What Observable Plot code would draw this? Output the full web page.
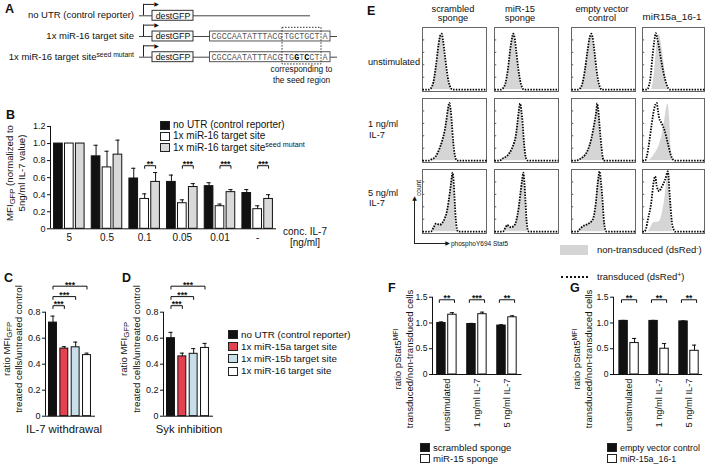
<!DOCTYPE html>
<html><head><meta charset="utf-8">
<script src="https://cdn.jsdelivr.net/npm/d3@7"></script>
<script src="https://cdn.jsdelivr.net/npm/@observablehq/plot@0.6"></script>
<style>
html,body{margin:0;padding:0;background:#fff;}
#root{position:relative;width:705px;height:465px;overflow:hidden;font-family:"Liberation Sans",Arial,Helvetica,sans-serif;color:#111;background:#fff;}
.t{position:absolute;white-space:nowrap;line-height:1;}
.t sup{font-size:0.72em;vertical-align:0.5em;line-height:0;}
.t sub{font-size:0.8em;vertical-align:-0.25em;line-height:0;}
.sw{position:absolute;box-sizing:border-box;}
</style></head><body><div id="root"></div>
<script>
// ---------------- DATA ----------------
// Panel A: reporter constructs
const constructRows = ["no UTR (control reporter)", "1x miR-16 target site", "1x miR-16 target site"];
const constructSup = ["", "", "seed mutant"];
const utrPrefix = "CGCCAATATTTACG";
const utrSeed = ["", "TGCTGCT", "TGGTCCT"];
const utrSuffix = "A";
const seedMutated = [2, 4];

// Panel B
const il7Conc = ["5", "0.5", "0.1", "0.05", "0.01", "-"];
const bSeries = ["no UTR (control reporter)", "1x miR-16 target site", "1x miR-16 target site"];
const bNoUTR = [1.00, 0.85, 0.59, 0.55, 0.50, 0.42];
const bNoUTRsd = [0, 0.13, 0.12, 0.08, 0.04, 0.04];
const bMiR16 = [1.00, 0.72, 0.35, 0.30, 0.265, 0.23];
const bMiR16sd = [0, 0.19, 0.06, 0.04, 0.025, 0.04];
const bSeedMut = [1.00, 0.87, 0.55, 0.49, 0.43, 0.35];
const bSeedMutsd = [0, 0.17, 0.11, 0.04, 0.03, 0.05];
const bStars = ["", "", "**", "***", "***", "***"];

// Panels C, D
const reporterNames = ["no UTR (control reporter)", "1x miR-15a target site", "1x miR-15b target site", "1x miR-16 target site"];
const cWithdrawal = [0.72, 0.52, 0.53, 0.47];
const cWithdrawalSd = [0.05, 0.015, 0.04, 0.015];
const dSyk = [0.60, 0.46, 0.48, 0.525];
const dSykSd = [0.045, 0.025, 0.04, 0.035];
const cdStars = ["***", "***", "***"];

// Panel E: histograms [phosphoY694 Stat5 (fraction of axis), count (fraction of max)]
const eColumns = ["scrambled sponge", "miR-15 sponge", "empty vector control", "miR15a_16-1"];
const eRowsLab = ["unstimulated", "1 ng/ml IL-7", "5 ng/ml IL-7"];
const hScrUnstim = [[0,0],[0.10,0],[0.13,0.02],[0.17,0.12],[0.21,0.38],[0.25,0.72],[0.28,0.88],[0.30,0.9],[0.32,0.8],[0.35,0.55],[0.38,0.3],[0.41,0.12],[0.44,0.03],[0.47,0],[1,0]];
const hScr1ng = [[0,0],[0.1,0],[0.14,0.02],[0.2,0.06],[0.26,0.18],[0.31,0.33],[0.35,0.5],[0.38,0.7],[0.40,0.85],[0.42,0.93],[0.44,0.82],[0.46,0.58],[0.48,0.3],[0.5,0.12],[0.52,0.03],[0.54,0],[1,0]];
const hScr5ng = [[0,0],[0.13,0],[0.17,0.06],[0.21,0.13],[0.24,0.12],[0.27,0.11],[0.31,0.14],[0.35,0.22],[0.38,0.32],[0.41,0.5],[0.44,0.73],[0.46,0.9],[0.47,0.95],[0.49,0.75],[0.5,0.55],[0.52,0.2],[0.54,0.04],[0.56,0],[1,0]];
const hSpoUnstim = [[0,0],[0.1,0],[0.13,0.02],[0.17,0.1],[0.21,0.33],[0.25,0.68],[0.28,0.86],[0.29,0.9],[0.31,0.86],[0.34,0.62],[0.37,0.35],[0.40,0.15],[0.43,0.04],[0.46,0],[1,0]];
const hSpo1ng = [[0,0],[0.08,0],[0.12,0.03],[0.2,0.08],[0.27,0.19],[0.31,0.3],[0.33,0.38],[0.36,0.62],[0.38,0.8],[0.40,0.92],[0.42,0.8],[0.44,0.6],[0.46,0.3],[0.48,0.1],[0.5,0.02],[0.52,0],[1,0]];
const hSpo5ng = [[0,0],[0.13,0],[0.17,0.06],[0.2,0.11],[0.23,0.08],[0.26,0.07],[0.31,0.1],[0.36,0.27],[0.38,0.4],[0.4,0.57],[0.43,0.82],[0.45,0.95],[0.47,0.75],[0.48,0.57],[0.5,0.19],[0.52,0.03],[0.54,0],[1,0]];
const hEmpUnstim = [[0,0],[0.1,0],[0.135,0.02],[0.17,0.1],[0.21,0.32],[0.25,0.62],[0.28,0.82],[0.31,0.9],[0.33,0.84],[0.36,0.6],[0.39,0.33],[0.42,0.13],[0.45,0.03],[0.47,0],[1,0]];
const hEmp1ng = [[0,0],[0.08,0],[0.12,0.02],[0.17,0.05],[0.25,0.16],[0.31,0.35],[0.36,0.62],[0.39,0.82],[0.40,0.92],[0.42,0.8],[0.44,0.54],[0.47,0.2],[0.48,0.11],[0.5,0.01],[0.52,0],[1,0]];
const hEmp5ng = [[0,0],[0.09,0],[0.13,0.04],[0.17,0.08],[0.25,0.12],[0.33,0.19],[0.38,0.46],[0.41,0.78],[0.44,0.97],[0.46,0.8],[0.48,0.57],[0.51,0.14],[0.53,0.03],[0.55,0],[1,0]];
const hMirTUnstim = [[0,0],[0.07,0],[0.1,0.05],[0.124,0.16],[0.16,0.52],[0.19,0.78],[0.215,0.91],[0.235,0.84],[0.258,0.73],[0.31,0.42],[0.366,0.16],[0.41,0.03],[0.44,0],[1,0]];
const hMirNUnstim = [[0,0],[0.14,0],[0.165,0.08],[0.19,0.26],[0.23,0.7],[0.255,0.86],[0.27,0.89],[0.295,0.8],[0.32,0.63],[0.366,0.26],[0.39,0.05],[0.42,0],[1,0]];
const hMirT1ng = [[0,0],[0.04,0],[0.07,0.07],[0.097,0.22],[0.15,0.6],[0.194,0.86],[0.23,0.93],[0.25,0.8],[0.27,0.68],[0.31,0.6],[0.355,0.49],[0.41,0.27],[0.46,0.08],[0.5,0.01],[0.53,0],[1,0]];
const hMirN1ng = [[0,0],[0.09,0],[0.177,0.08],[0.258,0.22],[0.32,0.43],[0.366,0.7],[0.39,0.85],[0.41,0.91],[0.44,0.65],[0.46,0.22],[0.484,0.03],[0.5,0],[1,0]];
const hMirT5ng = [[0,0],[0.03,0],[0.06,0.06],[0.086,0.19],[0.14,0.46],[0.177,0.78],[0.204,0.89],[0.23,0.73],[0.27,0.65],[0.3,0.7],[0.366,0.84],[0.41,0.97],[0.44,0.57],[0.473,0.16],[0.505,0.03],[0.53,0],[1,0]];
const hMirN5ng = [[0,0],[0.09,0],[0.13,0.06],[0.177,0.14],[0.27,0.16],[0.32,0.3],[0.366,0.57],[0.41,0.95],[0.44,0.68],[0.46,0.24],[0.484,0.03],[0.5,0],[1,0]];
const histNonTransduced = [[hScrUnstim, hScr1ng, hScr5ng], [hSpoUnstim, hSpo1ng, hSpo5ng], [hEmpUnstim, hEmp1ng, hEmp5ng], [hMirNUnstim, hMirN1ng, hMirN5ng]];
const histTransduced = [[hScrUnstim, hScr1ng, hScr5ng], [hSpoUnstim, hSpo1ng, hSpo5ng], [hEmpUnstim, hEmp1ng, hEmp5ng], [hMirTUnstim, hMirT1ng, hMirT5ng]];
const histYTicks = [0.2, 0.4, 0.6, 0.8];

// Panels F, G
const pStatConds = ["unstimulated", "1 ng/ml IL-7", "5 ng/ml IL-7"];
const fScrambled = [1.00, 0.98, 0.95];
const fScrambledSd = [0.02, 0.012, 0.015];
const fSponge = [1.16, 1.17, 1.11];
const fSpongeSd = [0.04, 0.04, 0.03];
const fStars = ["**", "***", "**"];
const gEmpty = [1.04, 1.04, 1.03];
const gEmptySd = [0.01, 0.01, 0.01];
const gMiR = [0.61, 0.50, 0.46];
const gMiRSd = [0.09, 0.10, 0.11];
const gStars = ["**", "**", "**"];

// ---------------- HELPERS ----------------
const root = document.getElementById("root");
const FONT = '"Liberation Sans", Arial, Helvetica, sans-serif';
const INK = "#111";
const baseStyle = {background: "transparent", overflow: "visible", fontFamily: FONT, color: INK};

function T(x, y, html, o = {}) {
  const d = document.createElement("div");
  d.className = "t";
  d.innerHTML = html;
  d.style.left = x + "px";
  d.style.top = y + "px";
  d.style.fontSize = (o.size || 9.5) + "px";
  if (o.bold) d.style.fontWeight = "bold";
  const tx = o.anchor === "end" ? "-100%" : o.anchor === "middle" ? "-50%" : "0";
  d.style.transform = o.rotate ? "translate(-50%,-50%) rotate(-90deg)" : `translate(${tx},-50%)`;
  root.appendChild(d);
}
function box(x, y, w, h, css) {
  const d = document.createElement("div");
  d.className = "sw";
  d.style.left = x + "px"; d.style.top = y + "px"; d.style.width = w + "px"; d.style.height = h + "px";
  d.style.cssText += css;
  root.appendChild(d);
}
function plotAt(opts, left, top) {
  const svg = Plot.plot(opts);
  svg.style.position = "absolute";
  svg.style.left = left + "px";
  svg.style.top = top + "px";
  root.appendChild(svg);
}
const fmt1 = d => d === 0 ? "0" : d.toFixed(1);

function barChart(c) {
  const rows = [];
  c.values.forEach((vals, s) => vals.forEach((v, g) => rows.push({g, s, v, e: c.errors[s][g], xc: g + c.offsets[s]})));
  const withErr = rows.filter(r => r.e > 0);
  const lines = [];
  const brs = c.brackets.map((b, i) => {
    const xa = b.g + c.offsets[b.s1] - c.brPad, xb = b.g + c.offsets[b.s2] + c.brPad;
    lines.push({i, x: xa, y: b.y - c.drop}, {i, x: xa, y: b.y}, {i, x: xb, y: b.y}, {i, x: xb, y: b.y - c.drop});
    return {...b, xm: (xa + xb) / 2};
  });
  const marks = [];
  c.fills.forEach((f, s) => marks.push(Plot.rect(rows.filter(r => r.s === s), {
    x1: r => r.xc - c.barHalf, x2: r => r.xc + c.barHalf, y1: 0, y2: "v", fill: f, stroke: INK, strokeWidth: 1})));
  marks.push(
    Plot.ruleX(withErr, {x: "xc", y1: "v", y2: r => r.v + r.e, stroke: INK, strokeWidth: 1}),
    Plot.ruleY(withErr, {x1: r => r.xc - c.capHalf, x2: r => r.xc + c.capHalf, y: r => r.v + r.e, stroke: INK, strokeWidth: 1}),
    Plot.ruleY([0], {stroke: INK, strokeWidth: 1}),
    Plot.ruleX([c.xDomain[0]], {y1: 0, y2: c.axisTop, stroke: INK, strokeWidth: 1}),
    Plot.line(lines, {x: "x", y: "y", z: "i", stroke: INK, strokeWidth: 1, strokeLinejoin: "miter", strokeLinecap: "butt"}),
    Plot.text(brs, {x: "xm", y: "y", text: "label", dy: -1.3, fontSize: 8.5, fontWeight: "bold", lineAnchor: "middle", fill: INK})
  );
  if (c.xLabels) {
    marks.push(Plot.text(c.xLabels.map((t, i) => ({t, i})), {
      x: "i", y: 0, text: "t", dy: c.labelDy, fontSize: c.labelSize, fill: INK,
      rotate: c.labelRotate || 0,
      textAnchor: c.labelRotate ? "end" : "middle",
      lineAnchor: c.labelRotate ? "middle" : "top"}));
  }
  plotAt({
    width: c.width, height: c.height,
    marginLeft: c.ml, marginRight: c.mr, marginTop: c.mt, marginBottom: c.mb,
    x: {domain: c.xDomain, axis: null},
    y: {domain: c.yDomain, ticks: c.yTicks, tickFormat: fmt1, tickSize: 3, tickPadding: 2, label: null},
    style: {...baseStyle, fontSize: c.fontSize + "px"},
    marks
  }, c.left, c.top);
}

// ---------------- PANEL A ----------------
T(5, 9, "A", {size: 12.5, bold: true});
constructRows.forEach((r, i) => {
  T(134, [15.3, 36, 56.7][i], r + (constructSup[i] ? `<sup>${constructSup[i]}</sup>` : ""), {size: 9.5, anchor: "end"});
});
{
  const idx = constructRows.map((_, i) => i);
  const withUtr = idx.filter(i => utrSeed[i]);
  const cw = 5.07;
  const chars = [];
  withUtr.forEach(row => {
    [...utrPrefix].forEach((ch, j) => chars.push({row, ch, x: 211 + cw * (j + 0.5), bold: false}));
    [...utrSeed[row]].forEach((ch, j) => chars.push({row, ch, x: 283.5 + cw * (j + 0.5), bold: row === 2 && seedMutated.includes(j)}));
    chars.push({row, ch: utrSuffix, x: 322 + cw * 0.5, bold: false});
  });
  plotAt({
    width: 350, height: 85, margin: 0,
    x: {domain: [0, 350], axis: null},
    y: {domain: [0, 2], range: [15.3, 56.7], axis: null},
    style: {...baseStyle, fontSize: "9px"},
    marks: [
      Plot.ruleY([0], {x1: 193, x2: 310, y: d => d, stroke: "#444"}),
      Plot.ruleY(withUtr, {x1: 193, x2: 337, y: d => d, stroke: "#444"}),
      Plot.ruleY(idx, {x1: 139, x2: 152, y: d => d, stroke: "#444"}),
      Plot.ruleX(idx, {x: 143, y1: d => d, y2: d => d - 0.55, stroke: "#222"}),
      Plot.ruleY(idx, {x1: 143, x2: 154, y: d => d - 0.55, stroke: "#222"}),
      Plot.text(idx, {x: 156, y: d => d - 0.55, text: () => "\u25B6", fontSize: 6, fill: "#111", fontFamily: "DejaVu Sans"}),
      Plot.rect(idx, {x1: 152, x2: 193, y1: d => d - 0.24, y2: d => d + 0.24, fill: "#fafafa", stroke: "#333"}),
      Plot.text(idx, {x: 172.5, y: d => d, text: () => "destGFP", fontSize: 8.8, fill: INK}),
      Plot.rect(withUtr, {x1: 209.5, x2: 330, y1: d => d - 0.24, y2: d => d + 0.24, fill: "#fff", stroke: "#555"}),
      Plot.text(chars.filter(c => !c.bold), {x: "x", y: "row", text: "ch", fontSize: 8.4, fontFamily: '"Liberation Mono", "DejaVu Sans Mono", monospace', fill: "#555"}),
      Plot.text(chars.filter(c => c.bold), {x: "x", y: "row", text: "ch", fontSize: 8.4, fontWeight: "bold", fontFamily: '"Liberation Mono", "DejaVu Sans Mono", monospace', fill: "#000"}),
      Plot.rect([0], {x1: 282, x2: 321, y1: 0.58, y2: 2.35, fill: "none", stroke: "#333", strokeDasharray: "1.5,1.5"}),
      Plot.text(["corresponding to", "the seed region"], {x: 301, y: (d, i) => 2.58 + i * 0.53, text: d => d, fontSize: 8.3, fill: INK})
    ]
  }, 0, 0);
}

// ---------------- PANEL B ----------------
T(6, 115, "B", {size: 12.5, bold: true});
barChart({left: 0, top: 110, width: 350, height: 145, ml: 50, mr: 74, mt: 16, mb: 26.7,
  xDomain: [-0.5, 5.5], yDomain: [0, 1.2], yTicks: [0, 0.2, 0.4, 0.6, 0.8, 1.0, 1.2], axisTop: 1.2,
  values: [bNoUTR, bMiR16, bSeedMut], errors: [bNoUTRsd, bMiR16sd, bSeedMutsd], fills: [INK, "#fff", "#d9d9d9"],
  offsets: [-0.29, 0, 0.29], barHalf: 0.115, capHalf: 0.055,
  brackets: bStars.map((label, g) => ({g, s1: 1, s2: 2, y: 0.74, label})).filter(b => b.label),
  drop: 0.035, brPad: 0, xLabels: il7Conc, labelSize: 10, labelDy: 5, fontSize: 9});
[INK, "#fff", "#d9d9d9"].forEach((f, i) => {
  const y = 125.3 + i * 11.1;
  box(160, y - 4.5, 10, 9, `background:${f};border:1px solid #222;`);
  T(173, y, bSeries[i] + (i === 2 ? "<sup>seed mutant</sup>" : ""), {size: 10});
});
T(10, 173, "MFI<sub>GFP</sub> (normalized to", {size: 9.6, rotate: true});
T(22, 173, "5ng/ml IL-7 value)", {size: 9.6, rotate: true});
T(305, 232, "conc. IL-7", {size: 10, anchor: "middle"});
T(305, 243, "[ng/ml]", {size: 10, anchor: "middle"});

// ---------------- PANELS C, D ----------------
const cdFills = [INK, "#e5424f", "#c8dfe9", "#fff"];
const cdLevels = [0.85, 0.92, 1.0];
const cdBrackets = cdStars.map((label, k) => ({g: 0, s1: 0, s2: k + 1, y: cdLevels[k], label}));
T(4, 278, "C", {size: 12.5, bold: true});
T(122, 278, "D", {size: 12.5, bold: true});
[[0, cWithdrawal, cWithdrawalSd], [118, dSyk, dSykSd]].forEach(([left, vals, sds]) => {
  barChart({left, top: 270, width: 110, height: 170, ml: 45, mr: 15, mt: 15.7, mb: 24.3,
    xDomain: [-0.66, 3.75], yDomain: [0, 1.0], yTicks: [0, 0.2, 0.4, 0.6, 0.8], axisTop: 0.8,
    values: vals.map(v => [v]), errors: sds.map(v => [v]), fills: cdFills,
    offsets: [0, 1, 2, 3], barHalf: 0.35, capHalf: 0.18,
    brackets: cdBrackets, drop: 0.025, brPad: 0, fontSize: 9});
});
T(7, 349, "ratio MFI<sub>GFP</sub>", {size: 9.7, rotate: true});
T(19, 349, "treated cells/untreated control", {size: 9.7, rotate: true});
T(124, 349, "ratio MFI<sub>GFP</sub>", {size: 9.7, rotate: true});
T(137, 349, "treated cells/untreated control", {size: 9.7, rotate: true});
T(64, 430, "IL-7 withdrawal", {size: 11.3, anchor: "middle"});
T(189, 430, "Syk inhibition", {size: 11.3, anchor: "middle"});
reporterNames.forEach((n, i) => {
  const y = 334.5 + i * 12.2;
  box(228, y - 4.5, 9.5, 9, `background:${cdFills[i]};border:1px solid #222;`);
  T(241, y, n, {size: 9.8});
});

// ---------------- PANEL E ----------------
T(367, 11, "E", {size: 12.5, bold: true});
[["scrambled", "sponge", 453], ["miR-15", "sponge", 520], ["empty vector", "control", 602]].forEach(([a, b, x]) => {
  T(x, 9.8, a, {size: 9.3, anchor: "middle"});
  T(x, 19.2, b, {size: 9.3, anchor: "middle"});
});
T(672, 17, eColumns[3], {size: 9.8, anchor: "middle"});
T(368, 63, eRowsLab[0], {size: 9.2});
T(368, 125, "1 ng/ml", {size: 9.2});
T(369, 135.5, "IL-7", {size: 9.2});
T(368, 193.5, "5 ng/ml", {size: 9.2});
T(369, 204, "IL-7", {size: 9.2});
const histColX = [422, 494, 571, 642];
const histColW = [64, 64, 64, 62];
const histRowY = [27, 98, 169];
histColX.forEach((cx, ci) => histRowY.forEach((ry, ri) => {
  plotAt({
    width: histColW[ci], height: 64, margin: 0,
    x: {domain: [0, 1], axis: null},
    y: {domain: [-0.03, 1], axis: null},
    style: baseStyle,
    marks: [
      Plot.areaY(histNonTransduced[ci][ri], {x: d => d[0], y: d => d[1], fill: "#d5d5d5", curve: "monotone-x"}),
      Plot.ruleY(histYTicks, {x1: 0, x2: 0.035, stroke: "#555"}),
      Plot.frame({stroke: "#666", strokeWidth: 1}),
      Plot.line(histTransduced[ci][ri], {x: d => d[0], y: d => d[1], stroke: "#000", strokeWidth: 1.8, strokeDasharray: "1.5,1.3", strokeLinecap: "butt", strokeLinejoin: "miter", curve: "monotone-x"})
    ]
  }, cx, ry);
}));
// axis arrows
plotAt({
  width: 50, height: 60, marginLeft: 9, marginRight: 7, marginTop: 6, marginBottom: 7,
  x: {domain: [0, 1], axis: null}, y: {domain: [0, 1], axis: null},
  style: baseStyle,
  marks: [
    Plot.ruleY([0], {x1: 0, x2: 0.93, stroke: "#222"}),
    Plot.ruleX([0], {y1: 0, y2: 0.93, stroke: "#222"}),
    Plot.text(["\u25B6"], {x: 0.97, y: 0, text: d => d, fontSize: 6, fill: INK, fontFamily: "DejaVu Sans"}),
    Plot.text(["\u25B2"], {x: 0, y: 0.97, text: d => d, fontSize: 6, fill: INK, fontFamily: "DejaVu Sans"})
  ]
}, 405, 190);
T(419, 188, "count", {size: 6.5, rotate: true});
T(451, 243.5, "phosphoY694 Stat5", {size: 6.5});
box(560, 245, 28, 10, "background:#d5d5d5;");
box(561, 276, 27, 2, "border-top:2px dotted #111;");
T(597, 250, "non-transduced (dsRed<sup>-</sup>)", {size: 9.5});
T(597, 277, "transduced (dsRed<sup>+</sup>)", {size: 9.5});

// ---------------- PANELS F, G ----------------
T(388, 288, "F", {size: 12.5, bold: true});
T(570, 288, "G", {size: 12.5, bold: true});
barChart({left: 395, top: 280, width: 135, height: 155, ml: 37, mr: 8.5, mt: 16.7, mb: 61,
  xDomain: [-0.48, 2.5], yDomain: [0, 1.5], yTicks: [0, 0.5, 1.0, 1.5], axisTop: 1.5,
  values: [fScrambled, fSponge], errors: [fScrambledSd, fSpongeSd], fills: [INK, "#fff"],
  offsets: [-0.183, 0.183], barHalf: 0.14, capHalf: 0.07,
  brackets: fStars.map((label, g) => ({g, s1: 0, s2: 1, y: 1.45, label})),
  drop: 0.06, brPad: 0.07, xLabels: pStatConds, labelSize: 9.3, labelDy: 4, labelRotate: -90, fontSize: 8.6});
barChart({left: 575, top: 280, width: 130, height: 155, ml: 38, mr: 3, mt: 16.7, mb: 61,
  xDomain: [-0.52, 2.45], yDomain: [0, 1.5], yTicks: [0, 0.5, 1.0, 1.5], axisTop: 1.5,
  values: [gEmpty, gMiR], errors: [gEmptySd, gMiRSd], fills: [INK, "#fff"],
  offsets: [-0.183, 0.183], barHalf: 0.14, capHalf: 0.07,
  brackets: gStars.map((label, g) => ({g, s1: 0, s2: 1, y: 1.45, label})),
  drop: 0.06, brPad: 0.07, xLabels: pStatConds, labelSize: 9.3, labelDy: 4, labelRotate: -90, fontSize: 8.6});
T(398, 359, "ratio pStat5<sup>MFI</sup>", {size: 9.6, rotate: true});
T(410, 359, "transduced/non-transduced cells", {size: 9.6, rotate: true});
T(577, 359, "ratio pStat5<sup>MFI</sup>", {size: 9.6, rotate: true});
T(589, 359, "transduced/non-transduced cells", {size: 9.6, rotate: true});
[["scrambled sponge", "miR-15 sponge", 420, 9.6], ["empty vector control", "miR-15a_16-1", 607, 8.9]].forEach(([a, b, x, sz]) => {
  [a, b].forEach((n, i) => {
    const y = 447.5 + i * 11.3;
    box(x, y - 4.5, 10, 9, `background:${i ? "#fff" : INK};border:1px solid #222;`);
    T(x + 13, y, n, {size: sz});
  });
});
</script></body></html>
